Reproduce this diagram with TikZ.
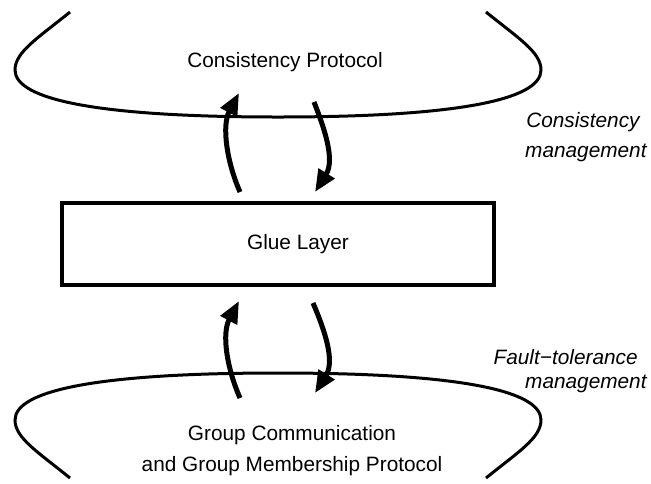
\documentclass[tikz,border=0pt]{standalone}
\usepackage{fontspec}
\setmainfont{Liberation Sans}
\usetikzlibrary{arrows.meta,positioning}

\begin{document}
\begin{tikzpicture}[x=0.5pt,y=-0.5pt,
    lbl/.style={font=\fontsize{10.4}{16}\selectfont, inner sep=0pt},
    side/.style={inner sep=0pt, anchor=base east, font=\fontsize{10.4}{16}\selectfont\itshape},
    cup/.style={line width=1.5pt},
    layer/.style={draw, line width=2pt, minimum width=216pt, minimum height=41pt},
    flow/.style={line width=2.5pt, -{Triangle[length=11pt,width=9pt]}}]
  \useasboundingbox (0,0) rectangle (651,483);

  % the two protocol layers
  \draw[cup] (70,12) .. controls (38,38) and (15,52) .. (15,70)
    .. controls (15,100) and (100,117) .. (278,117)
    .. controls (456,117) and (541,100) .. (541,70)
    .. controls (541,52) and (518,38) .. (486,12);
  \draw[cup] (70,478) .. controls (38,452) and (15,438) .. (15,420)
    .. controls (15,390) and (100,373) .. (278,373)
    .. controls (456,373) and (541,390) .. (541,420)
    .. controls (541,438) and (518,452) .. (486,478);

  \node[lbl, anchor=base] (cp) at (285,67) {Consistency Protocol};
  \node[layer] (glue) at (278,244) {};
  \node[lbl] (gl) at ([xshift=10pt]glue.center) {Glue Layer};
  \node[lbl, anchor=base] (gc) at (292,440) {Group Communication};
  \node[lbl, anchor=base] (gm) at (292,471) {and Group Membership Protocol};

  \node[side] (cm1) at (640,127) {Consistency};
  \node[side] (cm2) at (647,157) {management};
  \node[side] (ft1) at (638,364) {Fault\textminus tolerance};
  \node[side] (ft2) at (647,388) {management};

  % arrow ends
  \coordinate (up1) at (240,192);
  \coordinate (up2) at (239,93);
  \coordinate (dn1) at (314,102);
  \coordinate (dn2) at (315,192);
  \coordinate (up3) at (240,398);
  \coordinate (up4) at (239,301);
  \coordinate (dn3) at (313,303);
  \coordinate (dn4) at (315,393);

  \draw[flow] (up1) .. controls (226,160) and (222,125) .. (up2);
  \draw[flow] (dn1) .. controls (325,130) and (335,160) .. (dn2);
  \draw[flow] (up3) .. controls (226,366) and (222,333) .. (up4);
  \draw[flow] (dn3) .. controls (325,331) and (335,361) .. (dn4);
\end{tikzpicture}
\end{document}
